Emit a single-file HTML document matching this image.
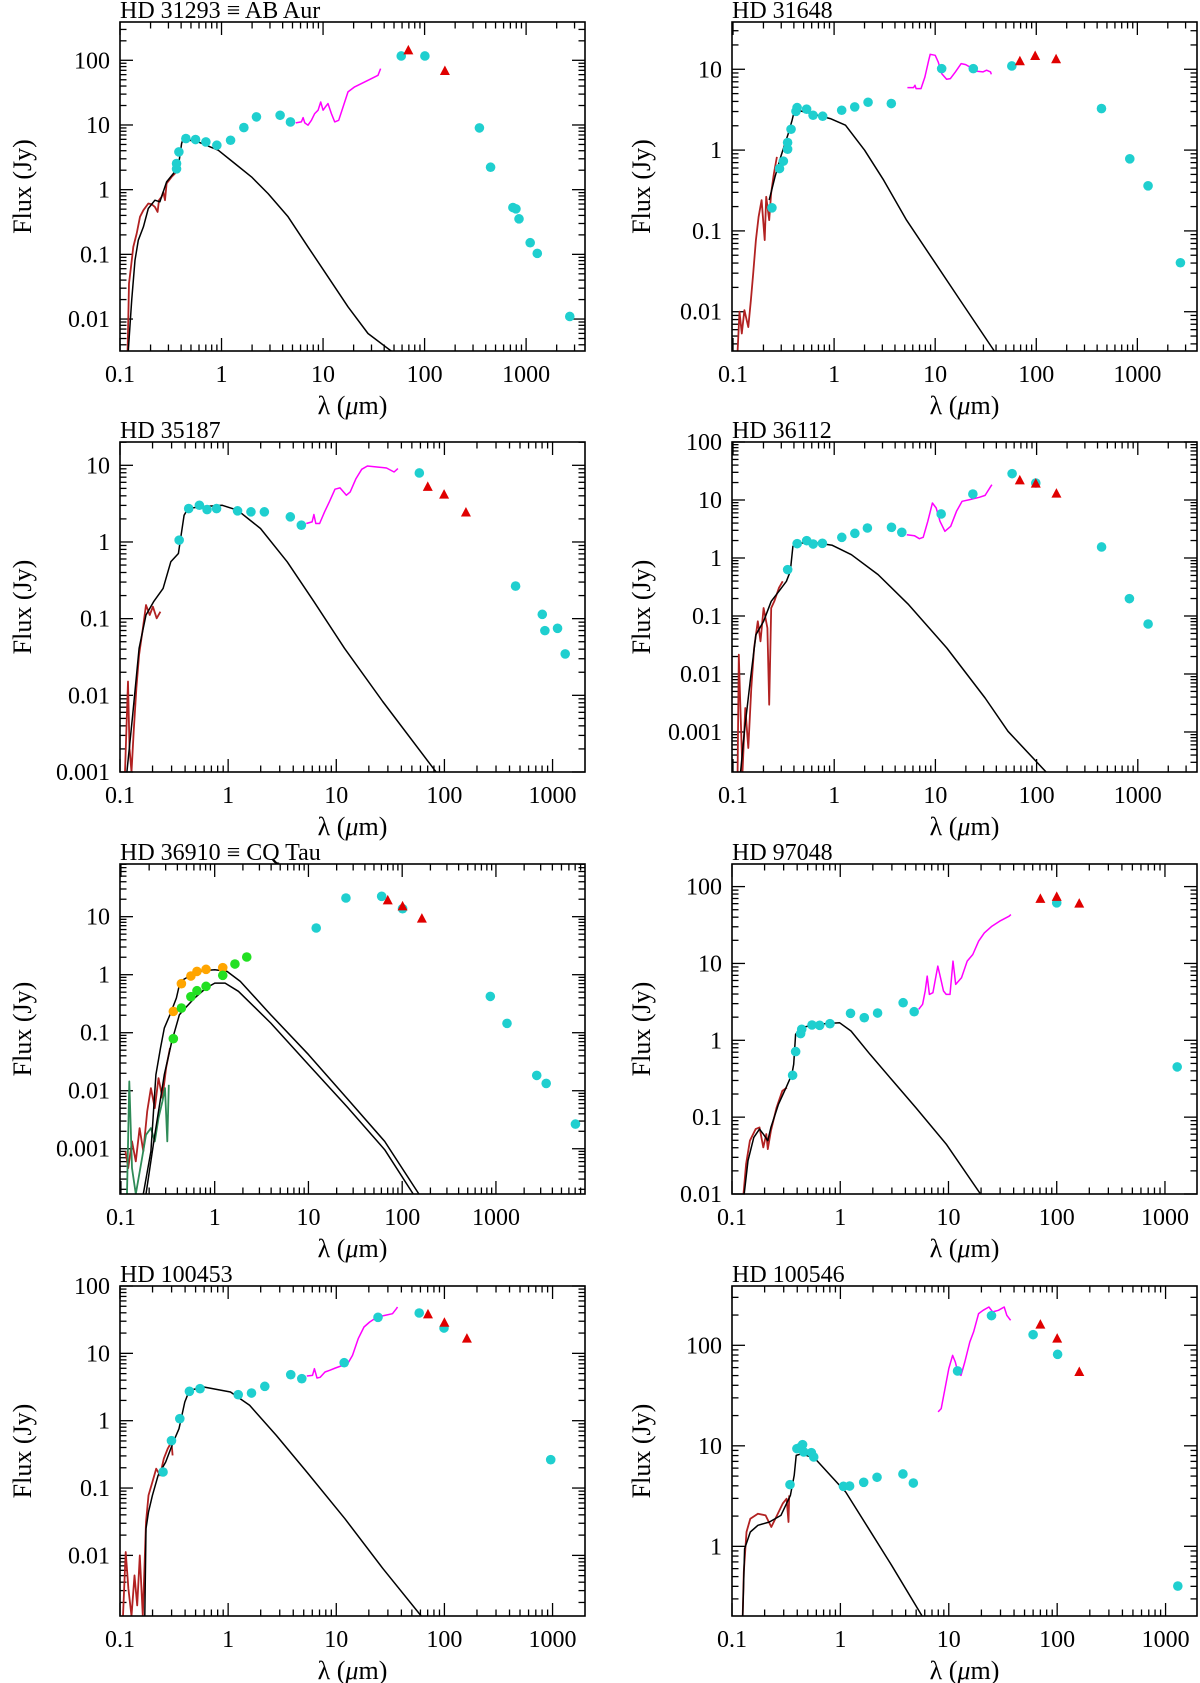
<!DOCTYPE html>
<html><head><meta charset="utf-8">
<style>
html,body{margin:0;padding:0;background:#fff;}
svg{display:block;font-family:"Liberation Serif","DejaVu Serif",serif;}
</style></head>
<body>
<svg id="chart" xmlns="http://www.w3.org/2000/svg" width="1200" height="1683" viewBox="0 0 1200 1683"></svg>
<script>
// ---- tick labels ----
const xTickVals = [-1, 0, 1, 2, 3];
const xTickLabels = ['0.1', '1', '10', '100', '1000'];
const yTickValsAll = [-3, -2, -1, 0, 1, 2];
const yTickLabelsAll = ['0.001', '0.01', '0.1', '1', '10', '100'];

// ---- Panel 1: HD 31293 (all values log10) ----
const p1PhotLogLam = [-0.443,-0.443,-0.42,-0.351,-0.256,-0.154,-0.046,0.089,0.22,0.344,0.577,0.679,1.77,2.003,2.54,2.65,2.87,2.90,2.93,3.04,3.11,3.43];
const p1PhotLogFlux = [0.322,0.404,0.584,0.79,0.775,0.738,0.687,0.764,0.96,1.125,1.15,1.047,2.067,2.067,0.955,0.347,-0.276,-0.297,-0.451,-0.82,-0.985,-1.96];
const p1TriLogLam = [1.84,2.2];
const p1TriLogFlux = [2.154,1.835];
const p1MagLogLam = [0.731,0.787,0.803,0.820,0.852,0.885,0.918,0.951,0.977,1.0,1.023,1.049,1.082,1.115,1.154,1.197,1.246,1.311,1.443,1.541,1.567];
const p1MagLogFlux = [1.032,1.047,1.114,1.032,0.996,1.073,1.176,1.228,1.356,1.228,1.279,1.331,1.176,1.047,1.073,1.279,1.511,1.588,1.691,1.768,1.871];
const p1UvLogLam = [-0.925,-0.911,-0.892,-0.869,-0.836,-0.803,-0.770,-0.721,-0.689,-0.656,-0.630,-0.616,-0.590,-0.574,-0.557,-0.541,-0.492,-0.443];
const p1UvLogFlux = [-2.495,-1.450,-1.193,-0.884,-0.678,-0.420,-0.317,-0.214,-0.224,-0.266,-0.343,-0.163,-0.111,-0.034,-0.163,0.095,0.198,0.275];
const p1ModLogLam = [-0.918,-0.885,-0.852,-0.820,-0.770,-0.721,-0.656,-0.607,-0.541,-0.475,-0.426,-0.393,-0.377,-0.344,-0.230,-0.033,0.131,0.295,0.459,0.656,0.852,1.049,1.246,1.443,1.672];
const p1ModLogFlux = [-2.49,-1.708,-1.090,-0.781,-0.575,-0.291,-0.163,-0.188,0.120,0.249,0.352,0.713,0.790,0.774,0.738,0.610,0.404,0.198,-0.060,-0.420,-0.884,-1.347,-1.811,-2.223,-2.496];

// ---- Panel 2: HD 31648 ----
const p2PhotLogLam = [-0.615,-0.54,-0.502,-0.46,-0.46,-0.426,-0.377,-0.366,-0.272,-0.208,-0.113,0.075,0.204,0.336,0.566,1.064,1.377,1.758,2.645,2.925,3.106,3.426];
const p2PhotLogFlux = [-0.714,-0.228,-0.137,0.011,0.094,0.258,0.48,0.526,0.506,0.431,0.419,0.493,0.534,0.592,0.576,1.008,1.008,1.041,0.514,-0.108,-0.442,-1.394];
const p2TriLogLam = [1.838,1.989,2.196];
const p2TriLogFlux = [1.099,1.165,1.124];
const p2MagLogLam = [0.725,0.785,0.8,0.811,0.860,0.898,0.936,0.951,1.0,1.030,1.064,1.113,1.151,1.2,1.257,1.302,1.340,1.377,1.415,1.472,1.509,1.547,1.555];
const p2MagLogFlux = [0.773,0.773,0.802,0.761,0.761,0.905,1.111,1.185,1.173,1.091,0.946,0.876,0.885,0.967,1.070,1.058,1.029,1.008,0.975,0.967,0.988,0.967,0.938];
const p2UvLogLam = [-0.955,-0.936,-0.913,-0.887,-0.849,-0.823,-0.8,-0.774,-0.747,-0.717,-0.687,-0.672,-0.642,-0.623,-0.596,-0.566];
const p2UvLogFlux = [-2.486,-2.0,-2.27,-1.98,-2.19,-1.855,-1.526,-1.114,-0.825,-0.619,-1.114,-0.578,-0.866,-0.537,-0.290,-0.084];
const p2ModLogLam = [-0.642,-0.585,-0.528,-0.453,-0.415,-0.396,-0.358,-0.226,-0.038,0.113,0.302,0.491,0.717,0.981,1.245,1.585];
const p2ModLogFlux = [-0.619,-0.331,-0.084,0.205,0.370,0.473,0.493,0.452,0.390,0.308,-0.001,-0.372,-0.867,-1.361,-1.855,-2.486];

// ---- Panel 3: HD 35187 ----
const p3PhotLogLam = [-0.453,-0.365,-0.266,-0.195,-0.107,0.087,0.211,0.335,0.575,0.677,1.768,2.658,2.905,2.929,3.046,3.117];
const p3PhotLogFlux = [0.024,0.436,0.479,0.423,0.436,0.406,0.393,0.393,0.328,0.219,0.9,-0.575,-0.944,-1.156,-1.126,-1.46];
const p3TriLogLam = [1.846,1.997,2.199];
const p3TriLogFlux = [0.718,0.618,0.384];
const p3MagLogLam = [0.723,0.776,0.793,0.811,0.846,0.892,0.935,0.988,1.034,1.094,1.129,1.182,1.235,1.288,1.376,1.464,1.535,1.570];
const p3MagLogFlux = [0.241,0.262,0.358,0.241,0.241,0.393,0.523,0.688,0.705,0.610,0.653,0.826,0.948,0.991,0.978,0.965,0.913,0.957];
const p3UvLogLam = [-0.954,-0.926,-0.912,-0.894,-0.873,-0.848,-0.823,-0.788,-0.760,-0.725,-0.696,-0.661,-0.626];
const p3UvLogFlux = [-3.0,-1.82,-2.69,-3.0,-2.47,-1.90,-1.47,-1.126,-0.822,-0.952,-0.844,-0.996,-0.909];
const p3ModLogLam = [-0.936,-0.883,-0.823,-0.760,-0.689,-0.601,-0.530,-0.460,-0.435,-0.407,-0.372,-0.266,-0.054,0.087,0.299,0.546,0.794,1.076,1.429,1.923];
const p3ModLogFlux = [-3.0,-2.254,-1.386,-0.952,-0.779,-0.605,-0.258,-0.150,0.089,0.349,0.436,0.458,0.479,0.414,0.176,-0.258,-0.779,-1.386,-2.080,-3.0];

// ---- Panel 4: HD 36112 ----
const p4PhotLogLam = [-0.460,-0.366,-0.272,-0.208,-0.117,0.075,0.204,0.328,0.566,0.668,1.057,1.370,1.758,1.992,2.642,2.917,3.102];
const p4PhotLogFlux = [-0.201,0.247,0.299,0.241,0.253,0.356,0.425,0.517,0.529,0.443,0.759,1.103,1.454,1.293,0.190,-0.701,-1.138];
const p4TriLogLam = [1.834,1.992,2.196];
const p4TriLogFlux = [1.339,1.282,1.109];
const p4MagLogLam = [0.717,0.792,0.842,0.879,0.925,0.970,1.008,1.045,1.094,1.151,1.208,1.264,1.340,1.434,1.491,1.547,1.558];
const p4MagLogFlux = [0.402,0.385,0.333,0.356,0.632,0.948,0.862,0.632,0.460,0.546,0.805,0.977,1.006,1.046,1.080,1.236,1.264];
const p4UvLogLam = [-0.955,-0.943,-0.925,-0.906,-0.879,-0.849,-0.819,-0.792,-0.755,-0.728,-0.698,-0.660,-0.642,-0.623,-0.592,-0.547,-0.509];
const p4UvLogFlux = [-3.69,-1.667,-2.70,-3.69,-2.586,-3.276,-2.241,-1.552,-1.092,-1.437,-0.862,-1.207,-2.529,-0.862,-0.747,-0.517,-0.402];
const p4ModLogLam = [-0.925,-0.887,-0.830,-0.774,-0.698,-0.623,-0.547,-0.472,-0.434,-0.408,-0.340,-0.170,-0.019,0.170,0.434,0.736,1.113,1.491,1.717,2.094];
const p4ModLogFlux = [-3.69,-2.989,-2.126,-1.322,-1.092,-0.747,-0.575,-0.402,-0.230,0.201,0.259,0.259,0.218,0.057,-0.287,-0.805,-1.552,-2.414,-2.989,-3.69];

// ---- Panel 5: HD 36910 (CQ Tau) ----
const p5PhotLogLam = [1.083,1.400,1.781,2.004,2.940,3.118,3.435,3.536,3.848];
const p5PhotLogFlux = [0.805,1.322,1.351,1.138,-0.374,-0.839,-1.736,-1.874,-2.575];
const p5TriLogLam = [1.846,2.004,2.210];
const p5TriLogFlux = [1.282,1.178,0.966];
const p5OrangeLogLam = [-0.441,-0.355,-0.254,-0.189,-0.092,0.086];
const p5OrangeLogFlux = [-0.632,-0.155,-0.023,0.057,0.092,0.121];
const p5GreenLogLam = [-0.441,-0.355,-0.254,-0.189,-0.092,0.086,0.216,0.342];
const p5GreenLogFlux = [-1.103,-0.575,-0.379,-0.276,-0.201,-0.011,0.184,0.305];
const p5UvLogLam = [-0.951,-0.923,-0.882,-0.842,-0.801,-0.761,-0.720,-0.680,-0.639,-0.599,-0.558,-0.518,-0.477];
const p5UvLogFlux = [-3.046,-3.333,-2.874,-3.218,-2.644,-3.046,-2.356,-1.954,-2.299,-1.782,-2.126,-1.609,-1.264];
const p5Uv2LogLam = [-0.935,-0.911,-0.882,-0.842,-0.781,-0.733,-0.680,-0.639,-0.599,-0.558,-0.530,-0.505,-0.489];
const p5Uv2LogFlux = [-3.78,-1.839,-3.333,-3.78,-3.218,-2.759,-2.644,-2.874,-2.471,-2.184,-1.954,-2.874,-1.897];
const p5ModLogLam = [-0.761,-0.680,-0.627,-0.578,-0.538,-0.477,-0.408,-0.368,-0.274,-0.133,0.001,0.131,0.273,0.597,1.002,1.408,1.813,2.178];
const p5ModLogFlux = [-3.78,-3.046,-1.724,-1.264,-0.920,-0.690,-0.402,-0.115,-0.029,0.069,0.086,0.057,-0.115,-0.690,-1.379,-2.126,-2.874,-3.78];
const p5Mod2LogLam = [-0.733,-0.639,-0.538,-0.457,-0.376,-0.315,-0.214,-0.092,0.001,0.111,0.253,0.597,1.002,1.408,1.813,2.117];
const p5Mod2LogFlux = [-3.78,-2.759,-1.724,-1.149,-0.690,-0.575,-0.402,-0.230,-0.144,-0.144,-0.287,-0.833,-1.552,-2.270,-3.017,-3.78];

// ---- Panel 6: HD 97048 ----
const p6PhotLogLam = [-0.440,-0.412,-0.366,-0.356,-0.261,-0.190,-0.095,0.095,0.222,0.345,0.581,0.683,2.0,3.113];
const p6PhotLogFlux = [-0.455,-0.147,0.087,0.143,0.199,0.195,0.216,0.351,0.294,0.355,0.489,0.372,1.788,-0.346];
const p6TriLogLam = [1.849,2.0,2.208];
const p6TriLogFlux = [1.840,1.866,1.779];
const p6MagLogLam = [0.725,0.761,0.785,0.803,0.824,0.856,0.901,0.926,0.954,0.979,1.014,1.042,1.067,1.120,1.173,1.225,1.278,1.331,1.401,1.472,1.560,1.577];
const p6MagLogFlux = [0.403,0.468,0.641,0.835,0.597,0.619,0.965,0.814,0.641,0.597,0.597,1.030,0.727,0.814,1.030,1.117,1.290,1.398,1.485,1.550,1.615,1.636];
const p6UvLogLam = [-0.894,-0.870,-0.835,-0.782,-0.746,-0.711,-0.683,-0.669,-0.641,-0.588,-0.535,-0.493];
const p6UvLogFlux = [-2.0,-1.610,-1.307,-1.156,-1.134,-1.394,-1.221,-1.416,-1.177,-0.874,-0.658,-0.615];
const p6ModLogLam = [-0.887,-0.852,-0.799,-0.746,-0.711,-0.669,-0.641,-0.570,-0.500,-0.447,-0.430,-0.412,-0.359,-0.218,-0.007,0.099,0.275,0.486,0.697,0.979,1.296];
const p6ModLogFlux = [-2.0,-1.567,-1.264,-1.156,-1.221,-1.307,-1.134,-0.831,-0.615,-0.442,-0.312,0.078,0.165,0.208,0.229,0.121,-0.182,-0.528,-0.874,-1.351,-2.0];

// ---- Panel 7: HD 100453 ----
const p7PhotLogLam = [-0.602,-0.524,-0.447,-0.358,-0.260,0.093,0.216,0.339,0.579,0.681,1.073,1.386,1.767,1.996,2.983];
const p7PhotLogFlux = [-0.762,-0.297,0.030,0.436,0.475,0.386,0.411,0.510,0.683,0.624,0.861,1.535,1.599,1.376,-0.579];
const p7TriLogLam = [1.848,2.0,2.208];
const p7TriLogFlux = [1.579,1.455,1.218];
const p7MagLogLam = [0.727,0.780,0.798,0.822,0.851,0.896,0.939,0.992,1.044,1.097,1.150,1.203,1.256,1.309,1.379,1.450,1.520,1.556,1.566];
const p7MagLogFlux = [0.663,0.673,0.772,0.634,0.644,0.723,0.748,0.782,0.812,0.822,0.970,1.218,1.391,1.465,1.540,1.564,1.589,1.663,1.688];
const p7UvLogLam = [-0.972,-0.947,-0.922,-0.894,-0.866,-0.841,-0.817,-0.789,-0.760,-0.736,-0.700,-0.665,-0.630,-0.595,-0.559,-0.524,-0.514];
const p7UvLogFlux = [-2.90,-1.950,-2.495,-2.90,-2.297,-2.743,-2.0,-2.90,-1.505,-1.109,-0.911,-0.713,-0.812,-0.564,-0.416,-0.317,-0.515];
const p7ModLogLam = [-0.771,-0.760,-0.736,-0.700,-0.648,-0.577,-0.507,-0.454,-0.401,-0.358,-0.225,0.022,0.198,0.445,0.727,1.080,1.432,1.785];
const p7ModLogFlux = [-2.90,-1.604,-1.356,-1.109,-0.812,-0.614,-0.317,-0.119,0.277,0.450,0.500,0.426,0.228,-0.218,-0.762,-1.455,-2.198,-2.90];

// ---- Panel 8: HD 100546 ----
const p8PhotLogLam = [-0.465,-0.401,-0.366,-0.349,-0.338,-0.268,-0.246,0.028,0.085,0.215,0.338,0.577,0.673,1.081,1.394,1.778,2.004,3.113];
const p8PhotLogFlux = [0.614,0.972,0.988,1.012,0.939,0.932,0.889,0.597,0.600,0.637,0.687,0.720,0.630,1.745,2.295,2.106,1.910,-0.395];
const p8TriLogLam = [1.845,2.0,2.204];
const p8TriLogFlux = [2.206,2.066,1.735];
const p8MagLogLam = [0.901,0.930,0.965,1.0,1.035,1.060,1.088,1.113,1.148,1.194,1.229,1.275,1.317,1.370,1.405,1.458,1.511,1.535,1.570];
const p8MagLogFlux = [1.337,1.370,1.569,1.768,1.900,1.834,1.718,1.701,1.834,2.033,2.133,2.315,2.348,2.381,2.332,2.348,2.381,2.299,2.249];
const p8UvLogLam = [-0.901,-0.891,-0.866,-0.831,-0.761,-0.690,-0.637,-0.585,-0.532,-0.496,-0.479,-0.472];
const p8UvLogFlux = [-0.693,-0.255,0.143,0.275,0.325,0.308,0.192,0.308,0.425,0.474,0.242,0.507];
const p8ModLogLam = [-0.901,-0.884,-0.831,-0.761,-0.655,-0.549,-0.461,-0.426,-0.408,-0.356,-0.232,-0.092,0.049,0.261,0.472,0.754];
const p8ModLogFlux = [-0.693,-0.023,0.143,0.209,0.242,0.308,0.507,0.706,0.905,0.922,0.872,0.706,0.541,0.176,-0.189,-0.693];

// ---- layout (not data) ----
const LX = [120, 585], RX = [732, 1197];
const rows = [[22, 351], [442, 772], [864, 1194], [1286, 1616]];
const panels = [
  {id:'p1', title:'HD 31293 \u2261 AB Aur', bx:LX, by:rows[0], xr:[-1.0,3.58], yr:[-2.494,2.592], ylx:22,
   phot:[p1PhotLogLam,p1PhotLogFlux], tri:[p1TriLogLam,p1TriLogFlux], mag:[p1MagLogLam,p1MagLogFlux], uv:[[p1UvLogLam,p1UvLogFlux,'#b22222']], mod:[[p1ModLogLam,p1ModLogFlux]]},
  {id:'p2', title:'HD 31648', bx:RX, by:rows[0], xr:[-1.01,3.59], yr:[-2.486,1.585], ylx:641,
   phot:[p2PhotLogLam,p2PhotLogFlux], tri:[p2TriLogLam,p2TriLogFlux], mag:[p2MagLogLam,p2MagLogFlux], uv:[[p2UvLogLam,p2UvLogFlux,'#b22222']], mod:[[p2ModLogLam,p2ModLogFlux]]},
  {id:'p3', title:'HD 35187', bx:LX, by:rows[1], xr:[-1.0,3.30], yr:[-3.0,1.304], ylx:22,
   phot:[p3PhotLogLam,p3PhotLogFlux], tri:[p3TriLogLam,p3TriLogFlux], mag:[p3MagLogLam,p3MagLogFlux], uv:[[p3UvLogLam,p3UvLogFlux,'#b22222']], mod:[[p3ModLogLam,p3ModLogFlux]]},
  {id:'p4', title:'HD 36112', bx:RX, by:rows[1], xr:[-1.01,3.585], yr:[-3.69,2.0], ylx:641,
   phot:[p4PhotLogLam,p4PhotLogFlux], tri:[p4TriLogLam,p4TriLogFlux], mag:[p4MagLogLam,p4MagLogFlux], uv:[[p4UvLogLam,p4UvLogFlux,'#b22222']], mod:[[p4ModLogLam,p4ModLogFlux]]},
  {id:'p5', title:'HD 36910 \u2261 CQ Tau', bx:LX, by:rows[2], xr:[-1.01,3.95], yr:[-3.78,1.908], ylx:22,
   phot:[p5PhotLogLam,p5PhotLogFlux], tri:[p5TriLogLam,p5TriLogFlux], mag:null,
   uv:[[p5UvLogLam,p5UvLogFlux,'#b22222'],[p5Uv2LogLam,p5Uv2LogFlux,'#2e8b57']], mod:[[p5ModLogLam,p5ModLogFlux],[p5Mod2LogLam,p5Mod2LogFlux]],
   extra:[[p5OrangeLogLam,p5OrangeLogFlux,'#ffa500','orange-photometry'],[p5GreenLogLam,p5GreenLogFlux,'#22e022','green-photometry']]},
  {id:'p6', title:'HD 97048', bx:RX, by:rows[2], xr:[-1.0,3.296], yr:[-2.0,2.294], ylx:641,
   phot:[p6PhotLogLam,p6PhotLogFlux], tri:[p6TriLogLam,p6TriLogFlux], mag:[p6MagLogLam,p6MagLogFlux], uv:[[p6UvLogLam,p6UvLogFlux,'#b22222']], mod:[[p6ModLogLam,p6ModLogFlux]]},
  {id:'p7', title:'HD 100453', bx:LX, by:rows[3], xr:[-1.0,3.30], yr:[-2.90,2.0], ylx:22,
   phot:[p7PhotLogLam,p7PhotLogFlux], tri:[p7TriLogLam,p7TriLogFlux], mag:[p7MagLogLam,p7MagLogFlux], uv:[[p7UvLogLam,p7UvLogFlux,'#b22222']], mod:[[p7ModLogLam,p7ModLogFlux]]},
  {id:'p8', title:'HD 100546', bx:RX, by:rows[3], xr:[-1.0,3.29], yr:[-0.693,2.59], ylx:641,
   phot:[p8PhotLogLam,p8PhotLogFlux], tri:[p8TriLogLam,p8TriLogFlux], mag:[p8MagLogLam,p8MagLogFlux], uv:[[p8UvLogLam,p8UvLogFlux,'#b22222']], mod:[[p8ModLogLam,p8ModLogFlux]]}
];

const NS = 'http://www.w3.org/2000/svg';
const svg = document.getElementById('chart');
function mk(tag, attrs, parent) {
  const e = document.createElementNS(NS, tag);
  for (const k in attrs) e.setAttribute(k, attrs[k]);
  parent.appendChild(e);
  return e;
}

panels.forEach(function(P) {
  const g = mk('g', {}, svg);
  
  
  const x0 = P.bx[0], x1 = P.bx[1], y0 = P.by[0], y1 = P.by[1];
  const sx = function(v){ return x0 + (v - P.xr[0]) / (P.xr[1] - P.xr[0]) * (x1 - x0); };
  const sy = function(v){ return y1 - (v - P.yr[0]) / (P.yr[1] - P.yr[0]) * (y1 - y0); };

  const clip = mk('clipPath', {id: 'clip-' + P.id}, g);
  mk('rect', {x: x0, y: y0, width: x1 - x0, height: y1 - y0}, clip);

  const tk = mk('g', {stroke: '#000', 'stroke-width': 1.3}, g);
  
  
  for (let d = Math.floor(P.xr[0]); d <= Math.ceil(P.xr[1]); d++) {
    for (let m = 1; m <= 9; m++) {
      const v = d + Math.log10(m);
      if (v < P.xr[0] - 1e-6 || v > P.xr[1] + 1e-6) continue;
      const L = m === 1 ? 13 : 6.5, X = sx(v);
      mk('line', {x1: X, y1: y1, x2: X, y2: y1 - L}, tk);
      mk('line', {x1: X, y1: y0, x2: X, y2: y0 + L}, tk);
    }
  }
  for (let d = Math.floor(P.yr[0]); d <= Math.ceil(P.yr[1]); d++) {
    for (let m = 1; m <= 9; m++) {
      const v = d + Math.log10(m);
      if (v < P.yr[0] - 1e-6 || v > P.yr[1] + 1e-6) continue;
      const L = m === 1 ? 13 : 6.5, Y = sy(v);
      mk('line', {x1: x0, y1: Y, x2: x0 + L, y2: Y}, tk);
      mk('line', {x1: x1, y1: Y, x2: x1 - L, y2: Y}, tk);
    }
  }

  xTickVals.forEach(function(v, i) {
    if (v < P.xr[0] - 0.02 || v > P.xr[1]) return;
    const t = mk('text', {x: sx(v), y: y1 + 31, 'font-size': 24, 'text-anchor': 'middle'}, g);
    
    
    t.textContent = xTickLabels[i];
  });
  yTickValsAll.forEach(function(v, i) {
    if (v < P.yr[0] - 0.02 || v > P.yr[1] + 0.02) return;
    const t = mk('text', {x: x0 - 10, y: sy(v) + 8, 'font-size': 24, 'text-anchor': 'end'}, g);
    
    
    t.textContent = yTickLabelsAll[i];
  });

  const xt = mk('text', {x: (x0 + x1) / 2, y: y1 + 63, 'font-size': 26, 'text-anchor': 'middle'}, g);
  
  
  xt.innerHTML = '\u03bb (<tspan font-style="italic">\u03bc</tspan>m)';
  const ycx = P.ylx, ycy = (y0 + y1) / 2;
  const yt = mk('text', {x: ycx, y: ycy, 'font-size': 26, 'text-anchor': 'middle', transform: 'rotate(-90 ' + ycx + ' ' + ycy + ')', dy: 9}, g);
  
  
  yt.textContent = 'Flux (Jy)';

  const tt = mk('text', {x: x0, y: y0 - 4, 'font-size': 24}, g);
  
  
  tt.textContent = P.title;

  const data = mk('g', {'clip-path': 'url(#clip-' + P.id + ')'}, g);
  
  

  function line(arrs, color, w, name) {
    let d = '';
    arrs[0].forEach(function(v, i){ d += (i ? 'L' : 'M') + sx(v).toFixed(1) + ' ' + sy(arrs[1][i]).toFixed(1); });
    const p = mk('path', {d: d, fill: 'none', stroke: color, 'stroke-width': w, 'stroke-linejoin': 'round'}, data);
    
    
  }
  P.uv.forEach(function(u){ line(u, u[2], 1.8, 'uv-spectrum'); });
  P.mod.forEach(function(m){ line(m, '#000', 1.5, 'photosphere-model'); });
  if (P.mag) line(P.mag, '#ff00ff', 1.5, 'ir-spectrum');

  P.phot[0].forEach(function(v, i) {
    const c = mk('circle', {cx: sx(v), cy: sy(P.phot[1][i]), r: 4.8, fill: '#1fcfcf'}, data);
    
    
  });
  if (P.extra) P.extra.forEach(function(e) {
    e[0].forEach(function(v, i) {
      const c = mk('circle', {cx: sx(v), cy: sy(e[1][i]), r: 4.8, fill: e[2]}, data);
      
      
    });
  });
  P.tri[0].forEach(function(v, i) {
    const X = sx(v), Y = sy(P.tri[1][i]);
    const t = mk('polygon', {points: (X-5)+','+(Y+4)+' '+(X+5)+','+(Y+4)+' '+X+','+(Y-5.5), fill: '#e00000'}, data);
    
    
  });

  const box = mk('rect', {x: x0, y: y0, width: x1 - x0, height: y1 - y0, fill: 'none', stroke: '#000', 'stroke-width': 1.6}, g);
  
  
});
</script>
</body></html>
